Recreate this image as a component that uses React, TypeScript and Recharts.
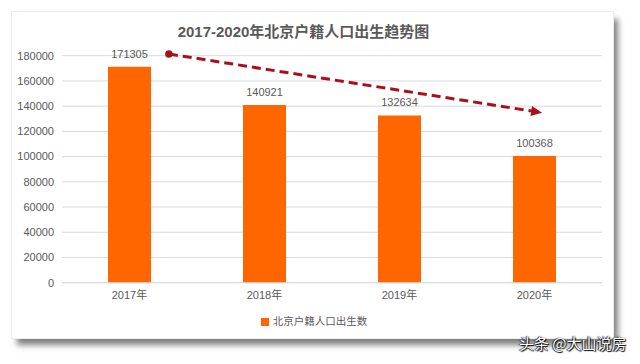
import React from 'react';
import { ComposedChart, Bar, XAxis, YAxis, CartesianGrid, Legend, LabelList, ReferenceLine } from 'recharts';

const years = ['2017年', '2018年', '2019年', '2020年'];
const births = [171305, 140921, 132634, 100368];
const yTicks = [0, 20000, 40000, 60000, 80000, 100000, 120000, 140000, 160000, 180000];
const seriesName = '北京户籍人口出生数';
const title = '2017-2020年北京户籍人口出生趋势图';
const trendDomain = [0, 3];
const trendStart = { x: 0.594, y: 181350 };
const trendEnd = { x: 2.667, y: 134800 };

const data = years.map((year, i) => ({ year, value: births[i] }));

const FONT = '"Liberation Sans", "Noto Sans CJK SC", sans-serif';
const ORANGE = '#ff6600';
const ARROW = '#a8101c';

const TrendArrow = (props: any) => {
  const { x1, y1, x2, y2 } = props;
  const dx = x2 - x1;
  const dy = y2 - y1;
  const len = Math.sqrt(dx * dx + dy * dy) || 1;
  const ux = dx / len;
  const uy = dy / len;
  const headLen = 11;
  const headHalf = 5;
  const bx = x2 - ux * headLen;
  const by = y2 - uy * headLen;
  const px = -uy;
  const py = ux;
  return (
    <g>
      <line x1={x1} y1={y1} x2={bx + ux * 2} y2={by + uy * 2} stroke={ARROW} strokeWidth={3} strokeDasharray="9 5" />
      <circle cx={x1} cy={y1} r={3.8} fill={ARROW} />
      <polygon
        points={`${x2},${y2} ${bx + px * headHalf},${by + py * headHalf} ${bx - px * headHalf},${by - py * headHalf}`}
        fill={ARROW}
      />
    </g>
  );
};

export default function App() {
  return (
    <div style={{ position: 'absolute', left: 0, top: 0, width: 640, height: 364, background: '#ffffff', overflow: 'hidden' }}>
      <div
        style={{
          position: 'absolute',
          left: 12,
          top: 12,
          width: 601,
          height: 326,
          background: '#ffffff',
          boxShadow: '0 0 0 1px #ececec, 5px 7px 6px rgba(0,0,0,0.5)',
        }}
      >
        <div
          style={{
            position: 'absolute',
            left: 0,
            top: 7,
            width: 583,
            height: 26,
            lineHeight: '26px',
            textAlign: 'center',
            fontFamily: FONT,
            fontWeight: 'bold',
            fontSize: 15,
            color: '#595959',
          }}
        >
          {title}
        </div>
        <ComposedChart
          width={601}
          height={326}
          data={data}
          margin={{ top: 43.7, right: 11, bottom: 25.3, left: 0 }}
          style={{ fontFamily: FONT }}
        >
          <CartesianGrid vertical={false} stroke="#d9d9d9" strokeWidth={1} />
          <XAxis
            dataKey="year"
            height={30}
            axisLine={{ stroke: '#d9d9d9' }}
            tickLine={false}
            tick={{ fill: '#595959', fontSize: 11 }}
          />
          <XAxis xAxisId="trend" type="number" domain={trendDomain} allowDataOverflow hide />
          <YAxis
            width={50}
            domain={[0, 180000]}
            ticks={yTicks}
            axisLine={false}
            tickLine={false}
            tick={{ fill: '#595959', fontSize: 11 }}
          />
          <Bar dataKey="value" name={seriesName} fill={ORANGE} barSize={43} isAnimationActive={false} legendType="square">
            <LabelList dataKey="value" position="top" offset={9} fill="#595959" fontSize={11} />
          </Bar>
          <ReferenceLine
            xAxisId="trend"
            ifOverflow="visible"
            segment={[trendStart, trendEnd]}
            shape={(p: any) => <TrendArrow {...p} />}
          />
          <Legend
            layout="horizontal"
            verticalAlign="middle"
            align="center"
            iconSize={8}
            wrapperStyle={{ top: 302, left: 12, fontSize: 10.5, lineHeight: '14px' }}
            formatter={(v: string) => <span style={{ color: '#595959' }}>{v}</span>}
          />
        </ComposedChart>
      </div>
      <div
        style={{
          position: 'absolute',
          left: 519,
          top: 333,
          fontFamily: '"Noto Sans CJK SC", sans-serif',
          fontSize: 15,
          lineHeight: '20px',
          color: '#ffffff',
          textShadow: '0 0 1px #000, 1px 1px 1px #000, -1px 0 1px #333',
          whiteSpace: 'nowrap',
        }}
      >
        头条 @大山说房
      </div>
    </div>
  );
}
